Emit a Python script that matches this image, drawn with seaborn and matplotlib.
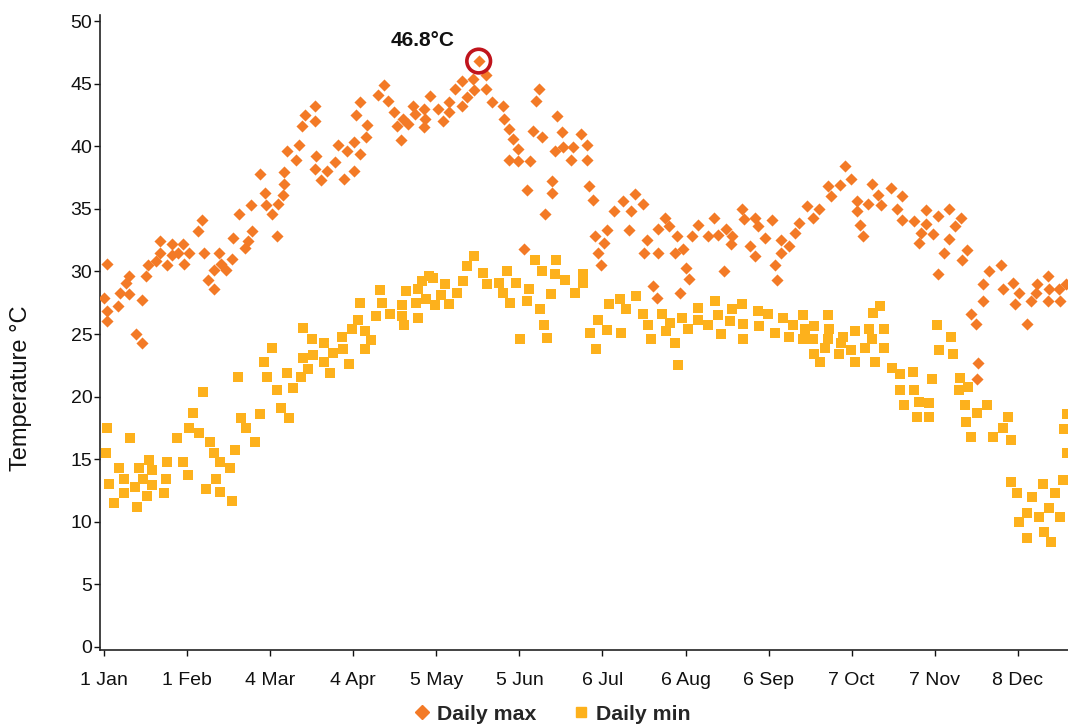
import numpy as np
import pandas as pd
import matplotlib
matplotlib.use("Agg")
import matplotlib.pyplot as plt
from matplotlib.lines import Line2D
import seaborn as sns

# ---- data (day of year, 0 = 1 Jan) ----
max_day = [0, 1.0, 1.2, 1.0, 5.3, 6.0, 8.2, 9.5, 9.5, 11.9, 14.0, 14.0, 15.7, 16.5, 19.4, 20.9, 20.9,
           23.4, 25.2, 25.2, 27.7, 29.6, 29.9, 31.8, 35.2, 36.4, 37.4, 38.9, 41.2, 41.2, 42.9, 43.5,
           45.5, 47.9, 48.2, 50.5, 52.6, 53.8, 54.8, 55.1, 58.2, 60.0, 60.4, 62.6, 64.7, 65.0, 66.9,
           67.2, 67.2, 68.4, 71.6, 72.9, 73.8, 75.0, 78.7, 78.7, 79.1, 78.7, 80.8, 83.1, 86.2, 87.2,
           89.6, 90.5, 93.4, 93.4, 93.9, 95.5, 95.5, 97.8, 98.0, 102.2, 104.5, 106.0, 108.3, 109.2,
           110.7, 111.4, 113.5, 115.2, 116.0, 119.4, 119.8, 119.4, 121.6, 124.7, 126.6, 128.8, 128.8,
           131.0, 133.5, 133.5, 135.6, 137.6, 138.1, 139.8, 142.4, 142.4, 144.6, 149.0, 149.3, 151.2,
           151.2, 152.5, 154.6, 154.6, 156.8, 157.7, 158.9, 160.2, 161.2, 162.3, 163.5, 164.6, 167.0,
           167.0, 168.3, 168.9, 170.8, 171.4, 174.3, 175.1, 178.0, 180.1, 180.1, 181.0, 182.3, 183.2,
           184.2, 185.3, 186.7, 187.6, 190.3, 193.8, 196.0, 196.6, 198.1, 201.0, 201.6, 202.5, 204.7,
           206.2, 206.8, 206.8, 209.3, 210.8, 213.0, 213.7, 214.9, 215.9, 217.2, 218.2, 219.5, 221.8,
           225.2, 227.6, 229.2, 231.4, 232.0, 233.8, 234.2, 238.2, 238.8, 241.0, 242.9, 242.9, 244.1,
           246.6, 249.1, 250.4, 251.2, 252.6, 252.6, 255.7, 257.8, 259.3, 262.2, 264.4, 266.8, 270.3,
           271.2, 274.6, 276.5, 278.6, 280.8, 280.8, 282.1, 283.1, 285.2, 286.7, 288.7, 289.8, 293.5,
           296.0, 297.9, 297.9, 302.3, 304.1, 304.9, 306.6, 306.6, 309.5, 311.3, 311.3, 313.4, 315.4,
           315.4, 317.5, 319.8, 320.0, 321.9, 323.5, 325.2, 325.8, 326.3, 328.1, 328.1, 330.3, 334.7,
           335.6, 339.3, 339.9, 341.4, 344.3, 345.8, 347.8, 348.1, 352.1, 352.3, 352.6, 356.4, 356.7,
           359.0]
max_val = [27.9, 30.6, 26.8, 26.0, 27.2, 28.3, 29.1, 28.2, 29.6, 25.0, 24.3, 27.7, 29.6, 30.5, 30.8,
           31.5, 32.4, 30.5, 32.2, 31.3, 31.5, 32.2, 30.6, 31.5, 33.2, 34.1, 31.5, 29.3, 28.6, 30.1,
           31.5, 30.6, 30.1, 31.0, 32.7, 34.6, 31.9, 32.4, 35.3, 33.2, 37.8, 36.3, 35.3, 34.6, 32.8,
           35.4, 36.1, 37.9, 37.0, 39.6, 38.9, 40.1, 41.6, 42.5, 43.2, 42.0, 39.2, 38.2, 37.3, 38.0,
           38.7, 40.1, 37.4, 39.6, 40.3, 38.0, 42.5, 43.5, 39.4, 40.7, 41.7, 44.1, 44.9, 43.6, 42.7,
           41.6, 40.5, 42.2, 41.8, 43.2, 42.6, 43.0, 42.2, 41.5, 44.0, 43.0, 42.0, 43.5, 42.7, 44.6,
           45.2, 43.2, 43.9, 45.4, 44.5, 46.8, 45.7, 44.6, 43.5, 43.2, 42.2, 41.4, 38.9, 40.6, 39.8,
           38.8, 31.8, 36.5, 38.8, 41.2, 43.6, 44.6, 40.7, 34.6, 37.2, 36.3, 39.6, 42.4, 41.1, 39.9,
           38.9, 39.9, 41.0, 40.1, 38.9, 36.8, 35.7, 32.8, 31.5, 30.5, 32.3, 33.3, 34.8, 35.6, 33.3,
           34.8, 36.2, 35.4, 31.5, 32.5, 28.8, 27.9, 33.4, 31.5, 34.3, 33.6, 31.5, 32.8, 28.3, 31.8,
           30.3, 29.4, 32.8, 33.7, 32.8, 34.3, 32.9, 30.0, 33.4, 32.2, 32.8, 35.0, 34.2, 32.0, 34.3,
           31.2, 33.6, 32.7, 34.1, 30.5, 29.3, 32.5, 31.5, 32.0, 33.1, 33.9, 35.2, 34.3, 35.0, 36.8,
           36.0, 36.9, 38.4, 37.4, 35.6, 34.8, 33.7, 32.8, 35.4, 37.0, 36.1, 35.3, 36.7, 35.0, 36.0,
           34.1, 34.0, 32.3, 33.1, 34.9, 33.8, 33.0, 34.4, 29.8, 31.5, 35.0, 32.6, 33.6, 34.3, 30.9,
           31.7, 26.6, 25.8, 21.4, 22.7, 29.0, 27.6, 30.0, 30.5, 28.6, 29.1, 27.4, 28.3, 25.8, 27.6,
           28.3, 29.0, 27.6, 29.6, 28.6, 28.6, 27.6, 29.0]

min_day = [0.7, 1.2, 2.0, 3.8, 5.7, 7.6, 7.6, 9.7, 11.7, 12.2, 13.2, 14.7, 15.9, 16.9, 18.0, 18.0,
           22.5, 23.0, 23.4, 27.1, 29.6, 31.5, 31.8, 33.3, 35.5, 37.0, 38.2, 39.7, 41.2, 41.9, 43.4,
           43.4, 47.1, 47.9, 49.0, 50.1, 51.2, 53.1, 56.5, 58.3, 59.8, 60.9, 62.6, 64.7, 65.9, 68.1,
           69.1, 70.6, 73.4, 74.1, 74.4, 76.2, 77.5, 78.1, 82.2, 82.2, 84.3, 85.6, 88.7, 89.3, 91.5,
           92.4, 94.9, 95.5, 97.5, 97.5, 99.7, 101.5, 103.1, 103.8, 106.7, 111.3, 111.3, 112.0, 112.8,
           116.5, 117.3, 117.3, 118.8, 120.0, 121.4, 122.6, 123.5, 125.7, 127.2, 128.8, 131.8, 133.8,
           135.3, 138.2, 141.5, 143.0, 147.5, 149.0, 150.5, 151.6, 153.8, 155.3, 158.0, 158.7, 161.0,
           162.8, 163.5, 164.3, 165.4, 166.9, 168.4, 168.8, 172.1, 175.9, 178.9, 178.9, 181.5, 183.7,
           184.4, 187.5, 188.6, 192.7, 193.0, 194.9, 198.6, 201.2, 203.1, 204.2, 208.3, 209.8, 211.3,
           213.2, 214.3, 215.5, 218.0, 221.8, 221.8, 225.5, 228.1, 229.2, 230.3, 233.7, 234.4, 238.2,
           238.5, 238.5, 244.2, 244.5, 247.9, 250.5, 253.5, 255.7, 257.2, 260.9, 261.7, 260.9, 264.7,
           265.0, 265.0, 267.3, 269.1, 270.3, 270.6, 270.3, 274.4, 275.1, 275.9, 278.9, 280.3, 280.3,
           284.1, 285.6, 286.7, 287.1, 287.8, 289.7, 291.2, 291.2, 294.1, 297.1, 297.1, 298.6, 302.0,
           302.3, 303.5, 304.0, 307.9, 307.9, 308.8, 311.0, 311.7, 316.2, 316.8, 319.2, 319.5, 321.4,
           321.7, 322.5, 323.6, 325.9, 329.6, 331.8, 335.6, 337.4, 338.6, 338.6, 340.8, 341.5, 344.5,
           344.5, 346.4, 349.0, 350.5, 350.8, 352.7, 353.4, 355.0, 356.9, 357.7, 358.3, 359.2, 359.2]
min_val = [15.5, 17.5, 13.0, 11.5, 14.3, 13.4, 12.3, 16.7, 12.8, 11.2, 14.3, 13.4, 12.1, 14.9, 14.1,
           12.9, 12.3, 13.4, 14.8, 16.7, 14.8, 13.7, 17.5, 18.7, 17.1, 20.4, 12.6, 16.4, 15.5, 13.4,
           14.8, 12.4, 14.3, 11.7, 15.7, 21.6, 18.3, 17.5, 16.4, 18.6, 22.8, 21.6, 23.9, 20.5, 19.1,
           21.9, 18.3, 20.7, 21.6, 23.1, 25.5, 22.2, 24.6, 23.3, 24.3, 22.8, 21.9, 23.5, 24.8, 23.8,
           22.6, 25.4, 26.1, 27.5, 25.2, 23.8, 24.5, 26.4, 28.5, 27.5, 26.6, 27.3, 26.4, 25.7, 28.4,
           27.5, 26.3, 28.6, 29.2, 27.8, 29.6, 29.5, 27.3, 28.1, 29.0, 27.4, 28.3, 29.2, 30.4, 31.2,
           29.9, 29.0, 29.1, 28.3, 30.0, 27.5, 29.1, 24.6, 27.6, 28.6, 30.9, 27.0, 30.0, 25.7, 24.7,
           28.2, 29.8, 30.9, 29.3, 28.3, 29.8, 29.1, 25.1, 23.8, 26.1, 25.3, 27.4, 27.8, 25.1, 27.0,
           28.0, 26.6, 25.7, 24.6, 26.6, 25.2, 25.9, 24.3, 22.5, 26.3, 25.4, 27.1, 26.1, 25.7, 27.6,
           26.5, 25.0, 26.0, 27.0, 27.4, 25.8, 24.6, 26.8, 25.6, 26.6, 25.1, 26.3, 24.8, 25.7, 26.5,
           25.4, 24.6, 24.6, 25.6, 23.4, 22.8, 23.9, 24.6, 25.4, 26.5, 23.4, 24.3, 24.8, 23.7, 25.2,
           22.8, 23.9, 25.4, 24.6, 26.7, 22.8, 27.2, 25.4, 23.9, 22.3, 21.8, 20.5, 19.3, 22.0, 20.5,
           18.4, 19.6, 19.5, 18.4, 21.4, 25.7, 23.7, 24.8, 23.4, 20.5, 21.5, 19.3, 18.0, 20.8, 16.8,
           18.7, 19.3, 16.8, 17.5, 18.4, 16.5, 13.2, 12.3, 10.0, 10.7, 8.7, 12.0, 10.4, 13.0, 9.2,
           11.1, 8.4, 12.3, 10.4, 13.3, 17.4, 18.6, 15.5]

tick_days = [0, 31, 62, 93, 124, 155, 186, 217, 248, 279, 310, 341]
tick_labels = ["1 Jan", "1 Feb", "4 Mar", "4 Apr", "5 May", "5 Jun", "6 Jul", "6 Aug",
               "6 Sep", "7 Oct", "7 Nov", "8 Dec"]

MAX_COLOR = "#F37A26"
MIN_COLOR = "#FDB11C"

df_max = pd.DataFrame({"day": max_day, "temp": max_val})
df_min = pd.DataFrame({"day": min_day, "temp": min_val})

sns.set_theme(style="white")
plt.rcParams["font.family"] = ["Liberation Sans", "DejaVu Sans"]

fig = plt.figure(figsize=(10.68, 7.26), dpi=100)
ax = fig.add_axes([100 / 1068, 1 - 650 / 726, 1 - 100 / 1068, (650 - 15) / 726])

sns.scatterplot(data=df_min, x="day", y="temp", ax=ax, marker="s", color=MIN_COLOR,
                s=46, linewidth=0, zorder=3)
sns.scatterplot(data=df_max, x="day", y="temp", ax=ax, marker="D", color=MAX_COLOR,
                s=38, linewidth=0, zorder=4)

# highlight the peak
imax = int(np.argmax(max_val))
px, py = max_day[imax], max_val[imax]
ax.scatter([px], [py], s=290, facecolors="none", edgecolors="#C0141C", linewidths=2.6, zorder=5)
ax.annotate(f"{py:.1f}°C", xy=(px, py), xytext=(-40, 15), textcoords="offset points",
            ha="center", va="center", fontsize=15, fontweight="bold", color="#111111")

ax.set_xlim(-1.5, 359.7)
ax.set_ylim(-0.24, 50.48)
ax.set_xticks(tick_days)
ax.set_xticklabels(tick_labels)
ax.set_yticks(range(0, 51, 5))
ax.tick_params(axis="both", labelsize=14, colors="#111111", length=4, width=1, direction="out",
               left=True, bottom=True)
ax.tick_params(axis="y", pad=1.5)
ax.tick_params(axis="x", pad=12)
ax.set_xlabel("")
ax.set_ylabel("Temperature °C", fontsize=17, color="#111111")
ax.yaxis.set_label_coords(-68 / 968, (650 - 388) / 635)

for side in ["top", "right"]:
    ax.spines[side].set_visible(False)
ax.spines["left"].set_color("#222222")
ax.spines["left"].set_linewidth(1.2)
ax.spines["bottom"].set_color("#222222")
ax.spines["bottom"].set_linewidth(1.2)

handles = [Line2D([0], [0], marker="D", linestyle="none", color=MAX_COLOR, markersize=7),
           Line2D([0], [0], marker="s", linestyle="none", color=MIN_COLOR, markersize=7)]
leg = fig.legend(handles, ["Daily max", "Daily min"], loc="center", ncol=2,
                 bbox_to_anchor=(552 / 1068, 1 - 714 / 726), frameon=False,
                 prop={"weight": "bold", "size": 15.3}, handletextpad=0.3, columnspacing=1.7,
                 handlelength=0.8)

fig.savefig("out.png", dpi=100)
